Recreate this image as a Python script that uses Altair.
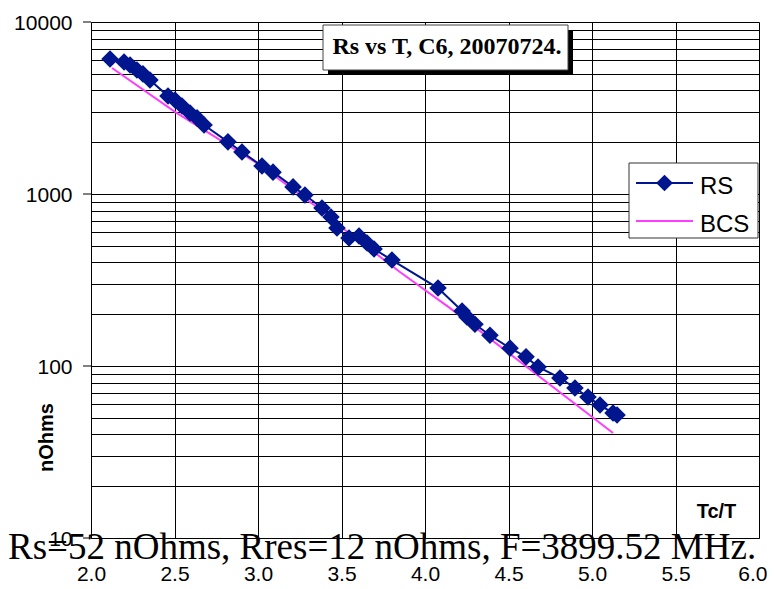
import altair as alt
import pandas as pd

# ---- data ----
rs_x = [2.114, 2.198, 2.234, 2.275, 2.311, 2.353, 2.461, 2.503, 2.545, 2.593,
        2.635, 2.677, 2.820, 2.904, 3.024, 3.090, 3.210, 3.281, 3.383, 3.437,
        3.473, 3.545, 3.605, 3.653, 3.695, 3.802, 4.078, 4.222, 4.251, 4.299,
        4.389, 4.509, 4.605, 4.677, 4.808, 4.898, 4.976, 5.048, 5.126, 5.150]
rs_y = [6090, 5850, 5620, 5260, 4990, 4600, 3710, 3520, 3250, 2960,
        2770, 2520, 2010, 1755, 1455, 1340, 1100, 987, 829, 735,
        634, 555, 570, 519, 479, 413, 284, 209, 193, 175,
        151, 127, 113, 98.7, 85.2, 74.5, 66.0, 59.3, 53.3, 51.9]

bcs_x = [2.126, 2.503, 2.743, 3.012, 3.401, 3.521, 3.850, 4.150, 5.126]
bcs_y = [5400, 3000, 2150, 1470, 775, 618, 352, 217, 40.8]

x_ticks = [2.0, 2.5, 3.0, 3.5, 4.0, 4.5, 5.0, 5.5, 6.0]
y_major = [10, 100, 1000, 10000]
y_grid = [10, 20, 30, 40, 50, 60, 70, 80, 90,
          100, 200, 300, 400, 500, 600, 700, 800, 900,
          1000, 2000, 3000, 4000, 5000, 6000, 7000, 8000, 9000, 10000]

title_text = "Rs vs T, C6, 20070724."
footnote_text = "Rs=52 nOhms, Rres=12 nOhms, F=3899.52 MHz."
x_title = "Tc/T"
y_title = "nOhms"
series_names = ["RS", "BCS"]

NAVY = "#00158E"
MAGENTA = "#FF3CFF"
SANS = "Liberation Sans"
SERIF = "Liberation Serif"

rs_df = pd.DataFrame({"x": rs_x, "y": rs_y})
bcs_df = pd.DataFrame({"x": bcs_x, "y": bcs_y})
major_df = pd.DataFrame({"y": y_major})
one = pd.DataFrame({"k": [0]})

major_test = "indexof([10,100,1000,10000], datum.value) >= 0"
last_test = "datum.value >= 6"

xenc = alt.X(
    "x:Q",
    scale=alt.Scale(domain=[2, 6], nice=False, zero=False),
    axis=alt.Axis(
        values=x_ticks, format=".1f", grid=True, gridColor="#000", gridWidth=1,
        ticks=False, domain=True, domainColor="#000", domainWidth=1,
        labelFont=SANS, labelFontSize=21, labelColor="#000", labelPadding=25,
        labelFlush=False, labelOverlap=False,
        labelAlign={"condition": {"test": last_test, "value": "right"}, "value": "center"},
        labelOffset={"condition": {"test": last_test, "value": 8}, "value": 0},
        title=x_title, titleFont=SANS, titleFontSize=20, titleFontWeight="bold",
        titleColor="#000", titleX=625, titleY=-21, titleAlign="center",
        titleBaseline="alphabetic",
    ),
)
yenc = alt.Y(
    "y:Q",
    scale=alt.Scale(type="log", domain=[10, 10000], nice=False),
    axis=alt.Axis(
        values=y_grid, grid=True, gridColor="#000", gridWidth=1,
        ticks=False,
        labelExpr=f"{major_test} ? format(datum.value, 'd') : ''",
        labelOverlap=False, labelFlush=False, labelFont=SANS, labelFontSize=21,
        labelColor="#000", labelPadding=19, labelOffset=1,
        domain=True, domainColor="#000", domainWidth=1,
        title=y_title, titleFont=SANS, titleFontSize=20, titleFontWeight="bold",
        titleColor="#000", titleAngle=270, titleX=-39, titleY=415,
        titleAlign="center", titleBaseline="alphabetic",
    ),
)

# major tick marks on the left of the y axis
major_ticks = alt.Chart(major_df).mark_rule(color="#000", strokeWidth=1).encode(
    y="y:Q", x=alt.value(-8), x2=alt.value(0))

bcs_line = alt.Chart(bcs_df).mark_line(color=MAGENTA, strokeWidth=2).encode(x=xenc, y=yenc)
rs_line = alt.Chart(rs_df).mark_line(color=NAVY, strokeWidth=2).encode(x="x:Q", y="y:Q")
rs_pts = alt.Chart(rs_df).mark_point(
    shape="diamond", filled=True, color=NAVY, size=310, opacity=1
).encode(x="x:Q", y="y:Q")

# title box with shadow
shadow = alt.Chart(one).mark_rect(color="#000").encode(
    x=alt.value(237), x2=alt.value(482), y=alt.value(8), y2=alt.value(53))
tbox = alt.Chart(one).mark_rect(fill="#fff", stroke="#444", strokeWidth=1).encode(
    x=alt.value(232), x2=alt.value(477), y=alt.value(3), y2=alt.value(48))
ttext = alt.Chart(one).mark_text(
    text=title_text, font=SERIF, fontSize=24, fontWeight="bold", color="#000",
    align="center", baseline="alphabetic").encode(x=alt.value(356), y=alt.value(32))

# legend
lbox = alt.Chart(one).mark_rect(fill="#fff", stroke="#333", strokeWidth=1).encode(
    x=alt.value(538), x2=alt.value(667), y=alt.value(141), y2=alt.value(216))
l_rs_line = alt.Chart(one).mark_rule(color=NAVY, strokeWidth=2).encode(
    x=alt.value(545), x2=alt.value(602), y=alt.value(161))
l_rs_pt = alt.Chart(one).mark_point(shape="diamond", filled=True, color=NAVY,
                                     size=280, opacity=1).encode(
    x=alt.value(573.5), y=alt.value(161))
l_bcs_line = alt.Chart(one).mark_rule(color=MAGENTA, strokeWidth=2).encode(
    x=alt.value(545), x2=alt.value(602), y=alt.value(199))
l_rs_txt = alt.Chart(one).mark_text(
    text=series_names[0], font=SANS, fontSize=24, color="#000", align="left",
    baseline="alphabetic").encode(x=alt.value(609), y=alt.value(172))
l_bcs_txt = alt.Chart(one).mark_text(
    text=series_names[1], font=SANS, fontSize=24, color="#000", align="left",
    baseline="alphabetic").encode(x=alt.value(609), y=alt.value(210))

foot = alt.Chart(one).mark_text(
    text=footnote_text, font=SERIF, fontSize=37, color="#000", align="left",
    baseline="alphabetic").encode(x=alt.value(-83), y=alt.value(537))

chart = alt.layer(
    bcs_line, major_ticks, rs_line, rs_pts,
    shadow, tbox, ttext,
    lbox, l_rs_line, l_rs_pt, l_bcs_line, l_rs_txt, l_bcs_txt,
    foot,
).properties(
    width=668, height=516,
    autosize=alt.AutoSizeParams(type="none"),
    padding={"left": 83, "top": 14, "right": 8, "bottom": 45},
    background="#ffffff",
).configure_view(stroke="transparent")

chart.save("out.html", embed_options={"renderer": "svg", "actions": False})
